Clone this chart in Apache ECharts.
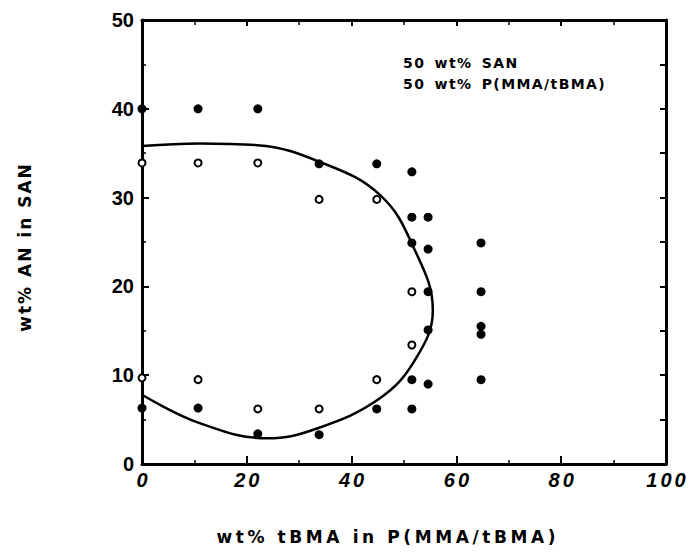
<!DOCTYPE html>
<html><head><meta charset="utf-8">
<script src="https://cdn.jsdelivr.net/npm/echarts@6/dist/echarts.min.js"></script>
<style>html,body{margin:0;padding:0;background:#fff}#c{width:690px;height:558px}</style>
</head><body><div id="c"></div>
<script>
// Filled symbols (two-phase / immiscible)
const filledX = [0, 10.7, 22.1, 33.8, 44.8, 51.5, 51.5, 54.6, 51.5, 54.6, 64.7, 54.6, 64.7, 54.6, 64.7, 64.7, 51.5, 54.6, 64.7, 0, 10.7, 22.1, 33.8, 44.8, 51.5];
const filledY = [40, 40, 40, 33.8, 33.8, 32.9, 27.8, 27.8, 24.9, 24.2, 24.9, 19.4, 19.4, 15.1, 15.5, 14.6, 9.5, 9.0, 9.5, 6.3, 6.3, 3.4, 3.3, 6.2, 6.2];
// Open symbols (one-phase / miscible)
const openX = [0, 10.7, 22.1, 33.8, 44.8, 51.5, 51.5, 0, 10.7, 22.1, 33.8, 44.8];
const openY = [33.9, 33.9, 33.9, 29.8, 29.8, 19.4, 13.4, 9.7, 9.5, 6.2, 6.2, 9.5];
// Miscibility boundary curve
const curveX = [0, 11, 22, 34, 45.4, 51.9, 55.5, 52.2, 45.4, 33.4, 23.8, 11, 0];
const curveY = [35.8, 36.1, 35.9, 34.0, 30.3, 24.3, 17.3, 11.8, 7.4, 4.0, 2.9, 4.6, 7.8];
// Axis ticks
const xTicks = [0, 20, 40, 60, 80, 100];
const yTicks = [0, 10, 20, 30, 40, 50];
const xTitle = 'wt% tBMA in P(MMA/tBMA)';
const yTitle = 'wt% AN in SAN';
const note1 = '50 wt% SAN';
const note2 = '50 wt% P(MMA/tBMA)';

const zip = (a, b) => a.map((v, i) => [v, b[i]]);
const axLine = {show: true, onZero: false, lineStyle: {color: '#000', width: 3}};
const tick = (len) => ({show: true, inside: true, length: len, lineStyle: {color: '#000', width: 2}});
const minor = (len) => ({show: true, splitNumber: 2, length: len, lineStyle: {color: '#000', width: 1.5}});

const chart = echarts.init(document.getElementById('c'), null, {renderer: 'svg'});
chart.setOption({
  animation: false,
  backgroundColor: '#fff',
  grid: {left: 142, right: 24, top: 20, bottom: 94, containLabel: false},
  xAxis: [
    {type: 'value', position: 'bottom', min: xTicks[0], max: xTicks[xTicks.length-1], interval: 20,
     axisLine: axLine, axisTick: tick(8), minorTick: minor(4), splitLine: {show: false},
     axisLabel: {margin: 6, color: '#000', fontFamily: 'Liberation Sans', fontWeight: 'bold', fontStyle: 'italic', fontSize: 20,
       formatter: v => xTicks.includes(v) ? String(v) : ''}},
    {type: 'value', position: 'top', min: xTicks[0], max: xTicks[xTicks.length-1], interval: 20,
     axisLine: axLine, axisTick: tick(6), minorTick: minor(5), splitLine: {show: false}, axisLabel: {show: false}}
  ],
  yAxis: [
    {type: 'value', position: 'left', min: yTicks[0], max: yTicks[yTicks.length-1], interval: 10,
     axisLine: axLine, axisTick: tick(7), minorTick: minor(4), splitLine: {show: false},
     axisLabel: {margin: 8, color: '#000', fontFamily: 'Liberation Sans', fontWeight: 'bold', fontSize: 20,
       formatter: v => yTicks.includes(v) ? String(v) : ''}},
    {type: 'value', position: 'right', min: yTicks[0], max: yTicks[yTicks.length-1], interval: 5,
     axisLine: axLine, axisTick: tick(6), splitLine: {show: false}, axisLabel: {show: false}}
  ],
  series: [
    {type: 'line', data: zip(curveX, curveY), smooth: 0.4, showSymbol: false, symbol: 'none',
     lineStyle: {color: '#000', width: 2.5}, clip: false, z: 2},
    {type: 'scatter', data: zip(openX, openY), symbol: 'circle', symbolSize: 7, clip: false,
     itemStyle: {color: '#fff', borderColor: '#000', borderWidth: 2, opacity: 1}, z: 3},
    {type: 'scatter', data: zip(filledX, filledY), symbol: 'circle', symbolSize: 9, clip: false,
     itemStyle: {color: '#000', opacity: 1}, z: 4}
  ],
  graphic: [
    {type: 'text', x: 386, y: 537, style: {text: xTitle, font: 'bold 17px "DejaVu Sans"', fill: '#000', textAlign: 'center', textVerticalAlign: 'middle'}},
    {type: 'text', x: 25, y: 248, rotation: Math.PI / 2, style: {text: yTitle, font: 'bold 17px "DejaVu Sans"', fill: '#000', textAlign: 'center', textVerticalAlign: 'middle'}},
    {type: 'text', x: 403, y: 63, style: {text: note1, font: 'bold 14px "DejaVu Sans"', fill: '#000', textAlign: 'left', textVerticalAlign: 'middle'}},
    {type: 'text', x: 403, y: 84, style: {text: note2, font: 'bold 14px "DejaVu Sans"', fill: '#000', textAlign: 'left', textVerticalAlign: 'middle'}}
  ]
});

// letter-spacing tweaks (SVG renderer) to mimic the wide-tracked lettering of the original
document.querySelectorAll('#c svg text').forEach(t => {
  const txt = t.textContent;
  const cs = getComputedStyle(t);
  let ls = 0, ws = 0, mid = false;
  if (txt === xTitle) { ls = 3.6; mid = true; }
  else if (txt === yTitle) { ls = 2.0; mid = true; }
  else if (txt === note1 || txt === note2) { ls = 1.4; ws = 3; }
  else if (cs.fontStyle === 'italic') { ls = 3; mid = true; }
  if (ls) {
    t.style.letterSpacing = ls + 'px';
    if (ws) t.style.wordSpacing = ws + 'px';
    if (mid) t.setAttribute('dx', String(ls / 2));
  }
});
</script>
</body></html>
